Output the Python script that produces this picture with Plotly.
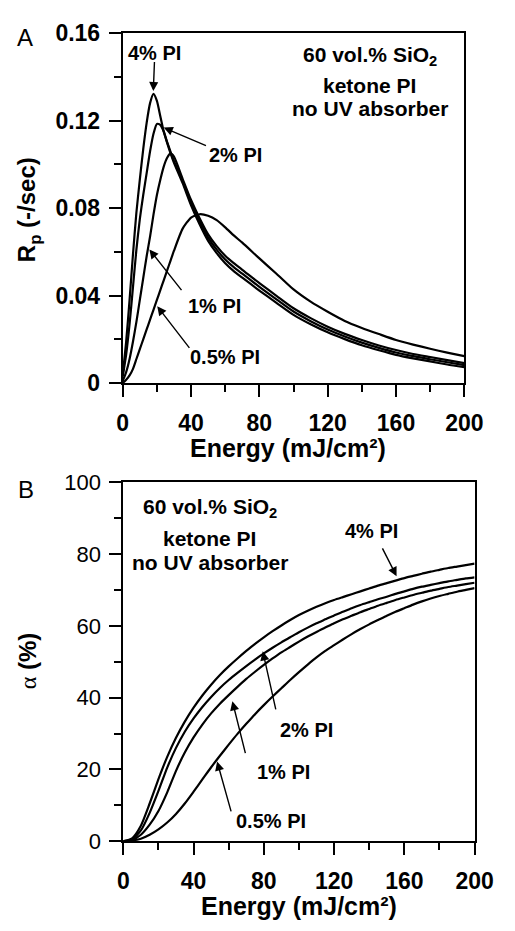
import plotly.graph_objects as go

# ---------------- Panel A data: Rp (-/sec) vs Energy (mJ/cm2) ----------------
energy_a = [0, 2, 4, 6, 8, 10, 12, 14, 16, 18, 20, 22, 24, 26, 28, 30, 35, 40, 45, 50,
            55, 60, 65, 70, 80, 90, 100, 110, 120, 130, 140, 150, 160, 170, 180, 190, 200]
rp_4pct = [0.004, 0.019, 0.038, 0.059, 0.078, 0.093, 0.107, 0.119, 0.128, 0.1322, 0.1290,
           0.1220, 0.1150, 0.1098, 0.1050, 0.1007, 0.0915, 0.0813, 0.0726, 0.0650, 0.0594,
           0.0548, 0.0512, 0.0482, 0.0423, 0.0367, 0.0312, 0.0269, 0.0232, 0.0201, 0.0173,
           0.0150, 0.0129, 0.0113, 0.0099, 0.0085, 0.0073]
rp_2pct = [0.003, 0.013, 0.027, 0.044, 0.061, 0.075, 0.086, 0.096, 0.106, 0.114, 0.1185,
           0.1180, 0.1150, 0.1102, 0.1057, 0.1015, 0.0925, 0.0825, 0.0740, 0.0665, 0.0610,
           0.0565, 0.0530, 0.0500, 0.0440, 0.0383, 0.0327, 0.0283, 0.0245, 0.0213, 0.0185,
           0.0161, 0.0140, 0.0123, 0.0109, 0.0095, 0.0082]
rp_1pct = [0.001, 0.005, 0.011, 0.019, 0.028, 0.038, 0.048, 0.058, 0.067, 0.077, 0.086,
           0.093, 0.099, 0.1030, 0.1050, 0.1035, 0.0935, 0.0837, 0.0754, 0.0680, 0.0626,
           0.0582, 0.0548, 0.0518, 0.0457, 0.0399, 0.0342, 0.0297, 0.0258, 0.0225, 0.0197,
           0.0172, 0.0151, 0.0133, 0.0119, 0.0105, 0.0091]
rp_05pct = [0.000, 0.0015, 0.0035, 0.0065, 0.011, 0.0155, 0.020, 0.0245, 0.029, 0.0335,
            0.038, 0.0425, 0.047, 0.0515, 0.056, 0.0605, 0.0705, 0.0757, 0.0772, 0.0765,
            0.0745, 0.0712, 0.0675, 0.0642, 0.0570, 0.0500, 0.0428, 0.0372, 0.0326, 0.0284,
            0.0252, 0.0224, 0.0197, 0.0176, 0.0157, 0.0139, 0.0123]

# ---------------- Panel B data: conversion alpha (%) vs Energy ----------------
energy_b = [0, 5, 10, 15, 20, 25, 30, 35, 40, 45, 50, 55, 60, 65, 70, 75, 80, 85, 90, 95,
            100, 105, 110, 115, 120, 125, 130, 135, 140, 145, 150, 155, 160, 165, 170,
            175, 180, 185, 190, 195, 200]
alpha_4pct = [0, 0.8, 4.3, 10.5, 17.3, 23.5, 28.8, 33.3, 37.2, 40.6, 43.6, 46.3, 48.7,
              50.9, 53.0, 55.0, 56.8, 58.5, 60.1, 61.6, 63.0, 64.2, 65.3, 66.3, 67.2,
              68.0, 68.8, 69.6, 70.4, 71.2, 71.9, 72.6, 73.3, 73.9, 74.5, 75.1, 75.6,
              76.1, 76.5, 76.9, 77.3]
alpha_2pct = [0, 0.5, 3.0, 7.9, 14.0, 20.5, 26.0, 30.5, 34.2, 37.4, 40.2, 42.7, 44.9,
              46.9, 48.8, 50.6, 52.3, 53.9, 55.4, 56.8, 58.2, 59.5, 60.7, 61.8, 62.9,
              63.9, 64.9, 65.8, 66.6, 67.4, 68.1, 68.9, 69.6, 70.3, 70.9, 71.4, 71.9,
              72.4, 72.8, 73.2, 73.5]
alpha_1pct = [0, 0.3, 1.8, 4.6, 8.4, 13.6, 19.6, 24.7, 28.9, 32.5, 35.6, 38.3, 40.7,
              43.0, 45.2, 47.2, 49.1, 50.9, 52.6, 54.1, 55.6, 57.0, 58.3, 59.5, 60.7,
              61.8, 62.8, 63.8, 64.7, 65.6, 66.4, 67.2, 67.9, 68.6, 69.2, 69.8, 70.3,
              70.8, 71.2, 71.6, 72.0]
alpha_05pct = [0, 0.2, 0.7, 1.8, 3.3, 5.2, 7.6, 10.5, 13.8, 17.2, 20.6, 23.8, 26.9,
               29.9, 32.7, 35.4, 37.9, 40.3, 42.6, 44.9, 47.1, 49.2, 51.2, 53.0, 54.6,
               56.2, 57.7, 59.1, 60.4, 61.6, 62.8, 63.9, 64.9, 65.9, 66.8, 67.6, 68.3,
               68.9, 69.5, 70.0, 70.5]

x_ticks = [0, 40, 80, 120, 160, 200]
x_minor = [20, 60, 100, 140, 180]
ya_ticks = [0, 0.04, 0.08, 0.12, 0.16]
ya_labels = ["0", "0.04", "0.08", "0.12", "0.16"]
ya_minor = [0.02, 0.06, 0.10, 0.14]
yb_ticks = [0, 20, 40, 60, 80, 100]
yb_minor = [10, 30, 50, 70, 90]

FONT = "Liberation Sans, Arial, Helvetica, sans-serif"
W, H = 515, 931

fig = go.Figure()
line = dict(color="black", width=2.2, shape="spline", smoothing=0.6)
for ys in (rp_4pct, rp_2pct, rp_1pct, rp_05pct):
    fig.add_trace(go.Scatter(x=energy_a, y=ys, mode="lines", line=line,
                             xaxis="x", yaxis="y", hoverinfo="skip"))
for ys in (alpha_4pct, alpha_2pct, alpha_1pct, alpha_05pct):
    fig.add_trace(go.Scatter(x=energy_b, y=ys, mode="lines", line=line,
                             xaxis="x2", yaxis="y2", hoverinfo="skip"))

def px_x(p):
    return p / W

def px_y(p):
    return 1 - p / H

common = dict(showline=True, linewidth=2, linecolor="black", mirror=True,
              ticks="outside", tickwidth=2, tickcolor="black", ticklen=12,
              showgrid=False, zeroline=False, color="black")
minor_common = dict(ticklen=7, tickwidth=2, ticks="outside", tickcolor="black",
                    showgrid=False)

bold_x = dict(family=FONT, size=23, color="black", weight="bold")
bold_y = dict(family=FONT, size=23, color="black", weight="bold")
reg_y = dict(family=FONT, size=22, color="black")

fig.update_layout(
    width=W, height=H, margin=dict(l=0, r=0, t=0, b=0),
    paper_bgcolor="white", plot_bgcolor="white", showlegend=False,
    font=dict(family=FONT, color="black"),
    xaxis=dict(domain=[px_x(122.7), px_x(481.7)], range=[0, 200], anchor="y",
               tickvals=x_ticks, tickfont=bold_x, ticklabelstandoff=6,
               minor=dict(tickvals=x_minor, **minor_common), **common),
    yaxis=dict(domain=[px_y(380.7), px_y(20.7)], range=[0, 0.16], anchor="x",
               tickvals=ya_ticks, ticktext=ya_labels, tickfont=bold_y,
               ticklabelstandoff=4,
               minor=dict(tickvals=ya_minor, **minor_common), **common),
    xaxis2=dict(domain=[px_x(123.3), px_x(492.5)], range=[0, 200], anchor="y2",
                tickvals=x_ticks, tickfont=bold_x, ticklabelstandoff=6,
                minor=dict(tickvals=x_minor, **minor_common), **common),
    yaxis2=dict(domain=[px_y(852), px_y(482.7)], range=[0, 100], anchor="x2",
                tickvals=yb_ticks, tickfont=reg_y, ticklabelstandoff=4,
                minor=dict(tickvals=yb_minor, **minor_common), **common),
)

ann = []
def txt(x, y, s, size=20, bold=True, xref="x", yref="y", angle=0, family=FONT):
    f = dict(family=family, size=size, color="black")
    if bold:
        f["weight"] = "bold"
    ann.append(dict(x=x, y=y, xref=xref, yref=yref, text=s, showarrow=False,
                    font=f, xanchor="center", yanchor="middle", textangle=angle))

def arrow(tx, ty, hx, hy, xref="x", yref="y"):
    ann.append(dict(x=hx, y=hy, ax=tx, ay=ty, xref=xref, yref=yref,
                    axref=xref, ayref=yref, text="", showarrow=True,
                    arrowhead=2, arrowsize=1.3, arrowwidth=1.4, arrowcolor="black"))

# Panel labels
txt(px_x(20), px_y(25), "A", size=24, bold=False, xref="paper", yref="paper")
txt(px_x(21), px_y(490), "B", size=24, bold=False, xref="paper", yref="paper")

# Axis titles (panel A)
txt(px_x(296), px_y(447), "Energy (mJ/cm²)", size=25, xref="paper", yref="paper")
txt(px_x(24), px_y(202), "R<sub>p</sub> (-/sec)", size=24, xref="paper", yref="paper", angle=-90)
# Axis titles (panel B)
txt(px_x(308), px_y(919), "Energy (mJ/cm²)", size=25, xref="paper", yref="paper")
txt(px_x(22), px_y(666),
    "<span style='font-family:Liberation Serif;font-weight:normal'>α</span> (%)",
    size=24, xref="paper", yref="paper", angle=-90)

# Panel A labels
txt(144.5, 0.1496, "60 vol.% SiO<sub>2</sub>", size=21)
txt(144.5, 0.1359, "ketone PI", size=21)
txt(144.5, 0.1256, "no UV absorber", size=21)
txt(18.6, 0.151, "4% PI", size=20)
arrow(18.6, 0.1475, 17.9, 0.1335)
txt(66.0, 0.1043, "2% PI", size=20)
arrow(49.6, 0.1083, 24.0, 0.1168)
txt(53.6, 0.0354, "1% PI", size=20)
arrow(35.1, 0.0418, 15.6, 0.0611)
txt(60.0, 0.0119, "0.5% PI", size=20)
arrow(39.7, 0.0154, 20.2, 0.0351)

# Panel B labels
txt(49.2, 92.9, "60 vol.% SiO<sub>2</sub>", size=21, xref="x2", yref="y2")
txt(49.2, 84.2, "ketone PI", size=21, xref="x2", yref="y2")
txt(49.2, 77.7, "no UV absorber", size=21, xref="x2", yref="y2")
txt(141.1, 86.4, "4% PI", size=20, xref="x2", yref="y2")
arrow(147.1, 82.0, 155.6, 73.8, "x2", "y2")
txt(104.3, 31.1, "2% PI", size=20, xref="x2", yref="y2")
arrow(87.0, 36.3, 79.4, 52.9, "x2", "y2")
txt(91.3, 19.2, "1% PI", size=20, xref="x2", yref="y2")
arrow(69.7, 24.1, 62.1, 39.0, "x2", "y2")
txt(84.3, 5.7, "0.5% PI", size=20, xref="x2", yref="y2")
arrow(61.6, 7.9, 53.4, 22.2, "x2", "y2")

fig.update_layout(annotations=ann)
fig.write_html("out.html")
